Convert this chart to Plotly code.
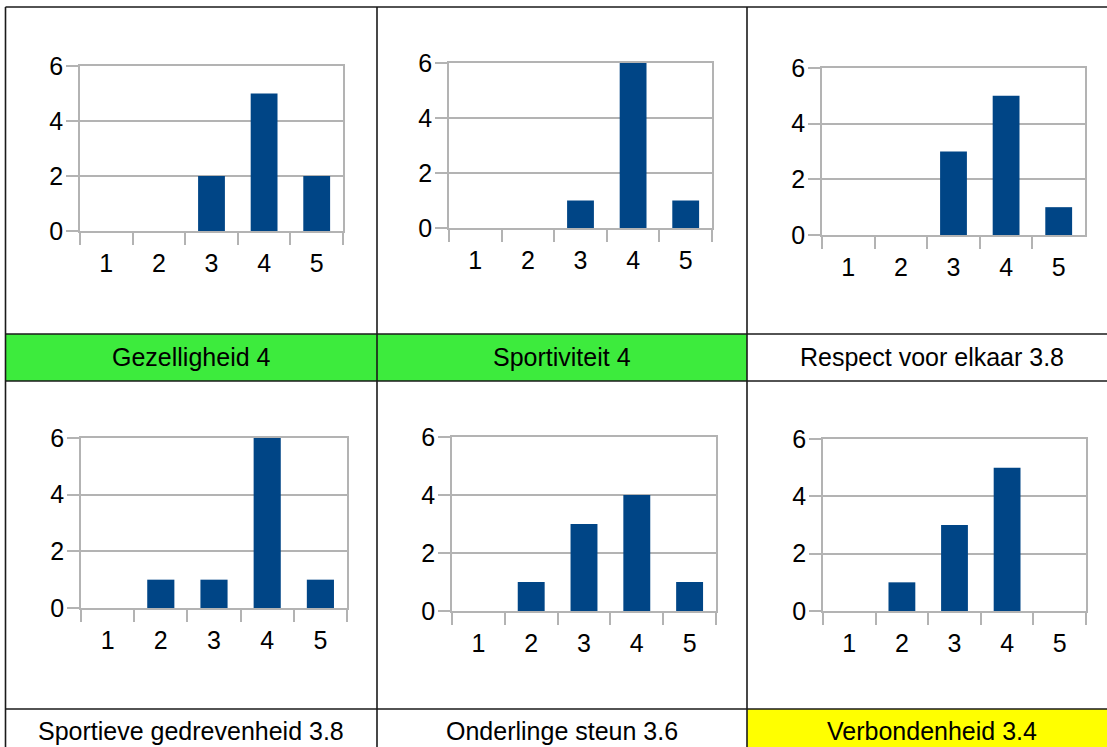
import plotly.graph_objects as go

W, H = 1107, 747

scores = ["1", "2", "3", "4", "5"]
titles = ["Gezelligheid", "Sportiviteit", "Respect voor elkaar",
          "Sportieve gedrevenheid", "Onderlinge steun", "Verbondenheid"]
averages = [4, 4, 3.8, 3.8, 3.6, 3.4]
gezelligheid = [0, 0, 2, 5, 2]
sportiviteit = [0, 0, 1, 6, 1]
respect = [0, 0, 3, 5, 1]
gedrevenheid = [0, 1, 1, 6, 1]
steun = [0, 1, 3, 4, 1]
verbondenheid = [0, 1, 3, 5, 0]
counts = [gezelligheid, sportiviteit, respect, gedrevenheid, steun, verbondenheid]
label_bg = ["#3deb3d", "#3deb3d", "white", "white", "white", "#ffff00"]

# plot boxes in pixels: x0, x1, ytop, ybottom
boxes = [
    (80, 343, 66, 231),
    (449, 712, 63, 228),
    (822, 1085, 68, 235),
    (81, 347, 438, 608),
    (452, 716, 437, 611),
    (823, 1086, 439, 611),
]

# table geometry (pixels)
col_x = [5.5, 377, 747, 1117]
row_y = [7, 334, 381, 709, 757]

GRID = "#b3b3b3"
BAR = "#004586"
FONT = "Liberation Sans, Arial, sans-serif"
FS = 25


def px(x):
    return x / W


def py(y):
    return 1 - y / H


fig = go.Figure()

for i, vals in enumerate(counts):
    n = "" if i == 0 else str(i + 1)
    fig.add_trace(go.Bar(
        x=scores, y=vals, marker=dict(color=BAR, line=dict(width=0)),
        xaxis="x" + n, yaxis="y" + n, showlegend=False,
        hoverinfo="x+y",
    ))
    x0, x1, yt, yb = boxes[i]
    fig.layout["xaxis" + n] = dict(
        domain=[px(x0), px(x1)], anchor="y" + n, type="category",
        tickson="boundaries", ticks="outside", ticklen=12, tickcolor=GRID,
        tickwidth=1.5, showline=True, linecolor=GRID, linewidth=1.5,
        mirror=True, showgrid=False, ticklabelstandoff=9, automargin=False,
        tickfont=dict(family=FONT, size=FS, color="black"),
        fixedrange=True,
    )
    fig.layout["yaxis" + n] = dict(
        domain=[py(yb), py(yt)], anchor="x" + n, range=[0, 6],
        tickvals=[0, 2, 4, 6], ticks="outside", ticklen=12, tickcolor=GRID,
        tickwidth=1.5, showline=True, linecolor=GRID, linewidth=1.5,
        mirror=True, showgrid=True, gridcolor=GRID, gridwidth=1.5,
        zeroline=False, ticklabelstandoff=-2, automargin=False,
        tickfont=dict(family=FONT, size=FS, color="black"),
        fixedrange=True,
    )

shapes = []
annotations = []
for i, title in enumerate(titles):
    c, r = i % 3, i // 3
    xa, xb = col_x[c], col_x[c + 1]
    ya, yb = row_y[2 * r + 1], row_y[2 * r + 2]
    shapes.append(dict(type="rect", xref="paper", yref="paper",
                       x0=px(xa), x1=px(xb), y0=py(yb), y1=py(ya),
                       fillcolor=label_bg[i], line=dict(width=0), layer="below"))
    yc = (ya + yb) / 2 if r == 0 else 731
    annotations.append(dict(
        text=f"{title} {averages[i]:g}", xref="paper", yref="paper",
        x=px((xa + xb) / 2), y=py(yc), xanchor="center", yanchor="middle",
        showarrow=False, font=dict(family=FONT, size=FS, color="black"),
    ))

LINE = dict(color="#1a1a1a", width=1.6)
for x in col_x[:3]:
    shapes.append(dict(type="line", xref="paper", yref="paper",
                       x0=px(x), x1=px(x), y0=py(row_y[0]), y1=0, line=LINE))
for y in row_y[:4]:
    shapes.append(dict(type="line", xref="paper", yref="paper",
                       x0=px(col_x[0]), x1=1, y0=py(y), y1=py(y), line=LINE))

fig.update_layout(
    width=W, height=H, margin=dict(l=0, r=0, t=0, b=0, pad=0),
    paper_bgcolor="white", plot_bgcolor="white",
    bargap=0.49, shapes=shapes, annotations=annotations,
    font=dict(family=FONT, color="black"),
)

fig.write_html("out.html", config={"displayModeBar": False},
               post_script="document.body.style.margin='0';")
